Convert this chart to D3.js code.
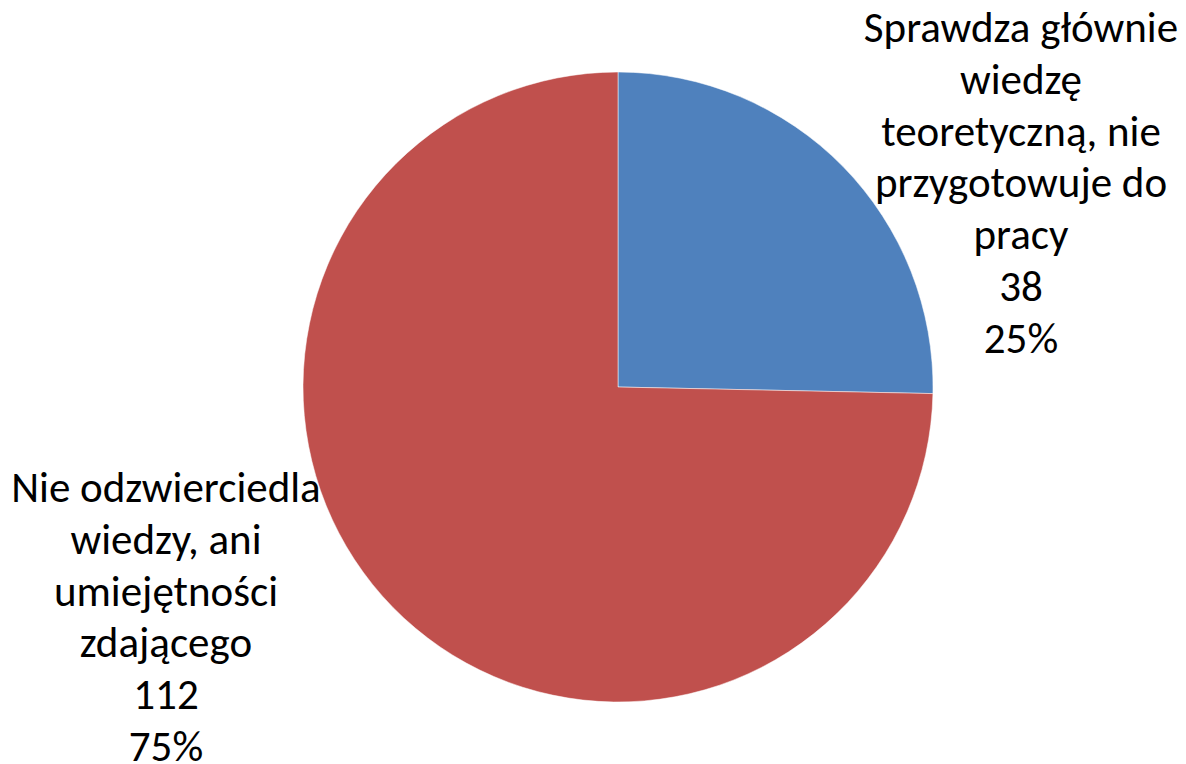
<!DOCTYPE html>
<html>
<head>
<meta charset="utf-8">
<script src="https://cdn.jsdelivr.net/npm/d3@7"></script>
<style>
  body { margin: 0; background: #fff; }
  text { font-family: Carlito, "Open Sans", "Noto Sans", sans-serif; fill: #000; }
</style>
</head>
<body>
<svg width="1186" height="764"></svg>
<script>
const categories = [
    ['Sprawdza głównie', 'wiedzę', 'teoretyczną, nie', 'przygotowuje do', 'pracy'],
    ['Nie odzwierciedla', 'wiedzy, ani', 'umiejętności', 'zdającego']
];
const values = [38, 112];
const colors = ['#4F81BD', '#C0504D'];

const svg = d3.select('svg');
const cx = 618, cy = 387, radius = 315;

const total = d3.sum(values);
const data = values.map((v, i) => ({ name: categories[i], value: v, color: colors[i] }));

const pie = d3.pie().value(d => d.value).sort(null);
const arc = d3.arc().innerRadius(0).outerRadius(radius);

const g = svg.append('g')
    .attr('transform', `translate(${cx}, ${cy})`);

g.selectAll('path').data(pie(data))
    .enter().append('path')
    .attr('d', arc)
    .attr('fill', d => d.data.color)
    .attr('stroke', '#fff')
    .attr('stroke-opacity', 0.5)
    .attr('stroke-width', 1);

// label positions (centre x, first baseline y)
const labelPos = [{ x: 1021, y: 42 }, { x: 166, y: 502 }];
const lineH = 51.8;

data.forEach((d, i) => {
    const lines = d.name.concat([String(d.value), Math.round(d.value / total * 100) + '%']);
    const t = svg.append('text')
        .attr('text-anchor', 'middle')
        .attr('font-size', 43);
    lines.forEach((l, j) => {
        t.append('tspan')
            .attr('x', labelPos[i].x)
            .attr('y', labelPos[i].y + j * lineH)
            .text(l);
    });
});
</script>
</body>
</html>
